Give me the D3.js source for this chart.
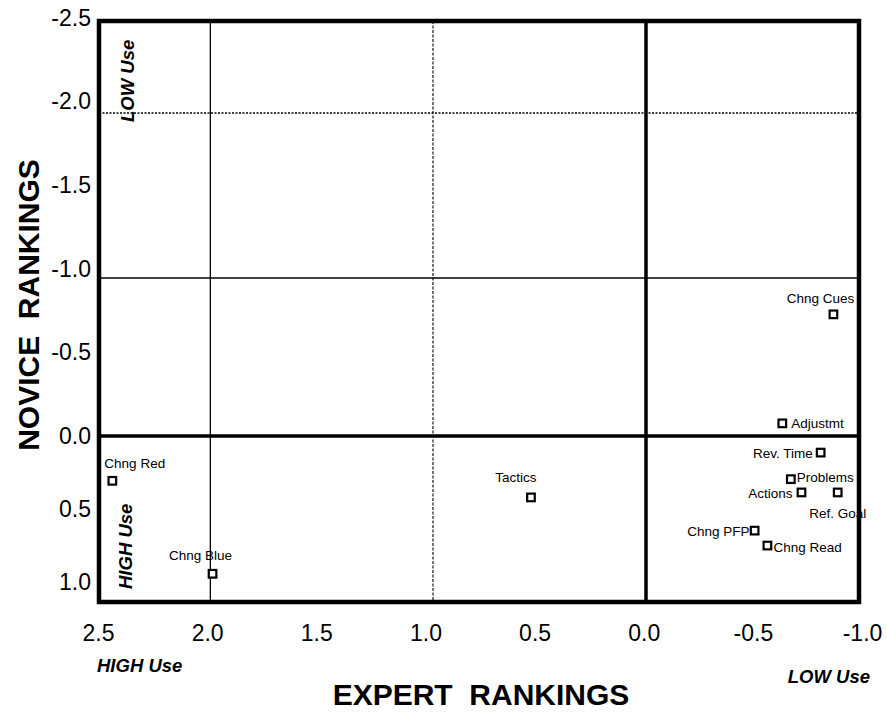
<!DOCTYPE html>
<html>
<head>
<meta charset="utf-8">
<script src="https://cdn.jsdelivr.net/npm/d3@7"></script>
<style>
  body { margin: 0; background: #fff; }
  text { font-family: "Liberation Sans", Arial, Helvetica, sans-serif; fill: #000; }
</style>
</head>
<body>
<div id="chart"></div>
<script>
// strategies, expert ranking (x) and novice ranking (y)
const names = ["Chng Cues", "Adjustmt", "Rev. Time", "Problems", "Actions", "Ref. Goal",
  "Chng PFP", "Chng Read", "Tactics", "Chng Red", "Chng Blue"];
const expert = [-0.88, -0.64, -0.82, -0.68, -0.73, -0.9, -0.51, -0.57, 0.54, 2.44, 1.99];
const novice = [-0.77, -0.08, 0.1, 0.26, 0.34, 0.34, 0.57, 0.66, 0.37, 0.27, 0.83];

const xTicks = [2.5, 2.0, 1.5, 1.0, 0.5, 0.0, -0.5, -1.0];
const yTicks = [-2.5, -2.0, -1.5, -1.0, -0.5, 0.0, 0.5, 1.0];

const w = 887;
const h = 713;
const plotL = 99, plotR = 859, plotT = 21, plotB = 602;

const svg = d3.select("#chart").append("svg")
  .attr("width", w)
  .attr("height", h);

// the printed grid is not quite even, so the scales are piecewise
const x = d3.scaleLinear().domain([2.5, 1.0, 0.0, -1.0]).range([plotL, 433, 646, plotR]);
const y = d3.scaleLinear().domain([-2.5, -2.0, -1.0, 0.0, 1.0]).range([plotT, 113, 278, 436, plotB]);
// tick labels sit a little off the grid lines
const xLab = d3.scaleLinear().domain([2.5, -1.0]).range([98, 862]);
const yLab = d3.scaleLinear().domain([-2.5, 0, 1.0]).range([18, 436, 582]);

const fmt = (d) => d.toFixed(1);

// grid lines inside the frame
const vLines = [
  { v: 2.0, width: 1.3, dash: null },
  { v: 1.0, width: 1.1, dash: "3,1.5" },
  { v: 0.0, width: 3.5, dash: null }
];
const hLines = [
  { v: -2.0, width: 1.6, dash: "2,1.5" },
  { v: -1.0, width: 1.3, dash: null },
  { v: 0.0, width: 3.5, dash: null }
];

svg.selectAll(".vline").data(vLines).enter().append("line")
  .attr("x1", (d) => x(d.v)).attr("x2", (d) => x(d.v))
  .attr("y1", plotT).attr("y2", plotB)
  .attr("stroke", "#000")
  .attr("stroke-width", (d) => d.width)
  .attr("stroke-dasharray", (d) => d.dash);

svg.selectAll(".hline").data(hLines).enter().append("line")
  .attr("x1", plotL).attr("x2", plotR)
  .attr("y1", (d) => y(d.v)).attr("y2", (d) => y(d.v))
  .attr("stroke", "#000")
  .attr("stroke-width", (d) => d.width)
  .attr("stroke-dasharray", (d) => d.dash);

// frame
svg.append("rect")
  .attr("x", plotL).attr("y", plotT)
  .attr("width", plotR - plotL).attr("height", plotB - plotT)
  .attr("fill", "none")
  .attr("stroke", "#000")
  .attr("stroke-width", 4.5);

// axes
const xAxis = svg.append("g")
  .attr("transform", "translate(0," + plotB + ")")
  .call(d3.axisBottom(xLab).tickValues(xTicks).tickFormat(fmt).tickSize(0).tickPadding(23));
xAxis.select(".domain").remove();
xAxis.selectAll("text").attr("font-size", 23).attr("font-family", null);

const yAxis = svg.append("g")
  .attr("transform", "translate(" + plotL + ",0)")
  .call(d3.axisLeft(yLab).tickValues(yTicks).tickFormat(fmt).tickSize(0).tickPadding(8));
yAxis.select(".domain").remove();
yAxis.selectAll("text").attr("font-size", 23).attr("font-family", null);

// points
const pts = names.map((n, i) => ({ name: n, ex: expert[i], nov: novice[i] }));

svg.selectAll(".pt").data(pts).enter().append("rect")
  .attr("class", "pt")
  .attr("x", (d) => x(d.ex) - 3.8)
  .attr("y", (d) => y(d.nov) - 3.8)
  .attr("width", 7.6).attr("height", 7.6)
  .attr("fill", "#fff")
  .attr("stroke", "#000")
  .attr("stroke-width", 2.2);

// label placement around each square
const place = {
  "Chng Cues": { dx: -13, dy: -11, anchor: "middle" },
  "Adjustmt": { dx: 9, dy: 5, anchor: "start" },
  "Rev. Time": { dx: -8, dy: 5, anchor: "end" },
  "Problems": { dx: 6, dy: 3, anchor: "start" },
  "Actions": { dx: -9, dy: 6, anchor: "end" },
  "Ref. Goal": { dx: 0, dy: 26, anchor: "middle" },
  "Chng PFP": { dx: -5, dy: 5, anchor: "end" },
  "Chng Read": { dx: 6, dy: 6, anchor: "start" },
  "Tactics": { dx: -15, dy: -15, anchor: "middle" },
  "Chng Red": { dx: -8, dy: -13, anchor: "start" },
  "Chng Blue": { dx: -12, dy: -14, anchor: "middle" }
};

svg.selectAll(".lbl").data(pts).enter().append("text")
  .attr("class", "lbl")
  .attr("x", (d) => x(d.ex) + place[d.name].dx)
  .attr("y", (d) => y(d.nov) + place[d.name].dy)
  .attr("text-anchor", (d) => place[d.name].anchor)
  .attr("font-size", 13.5)
  .text((d) => d.name);

// axis titles
svg.append("text")
  .attr("x", 481).attr("y", 705)
  .attr("text-anchor", "middle")
  .attr("font-size", 30).attr("font-weight", "bold")
  .style("white-space", "pre")
  .text("EXPERT  RANKINGS");

svg.append("text")
  .attr("transform", "translate(39,305) rotate(-90)")
  .attr("text-anchor", "middle")
  .attr("font-size", 30).attr("font-weight", "bold")
  .style("white-space", "pre")
  .text("NOVICE  RANKINGS");

// use annotations
const useStyle = (t) => t.attr("font-size", 18.5).attr("font-weight", "bold").attr("font-style", "italic");

svg.append("text").attr("x", 97).attr("y", 672).call(useStyle).text("HIGH Use");
svg.append("text").attr("x", 870).attr("y", 683).attr("text-anchor", "end").call(useStyle).text("LOW Use");
svg.append("text").attr("transform", "translate(134,122) rotate(-90)").call(useStyle).text("LOW Use");
svg.append("text").attr("transform", "translate(132,589) rotate(-90)").call(useStyle).text("HIGH Use");
</script>
</body>
</html>
